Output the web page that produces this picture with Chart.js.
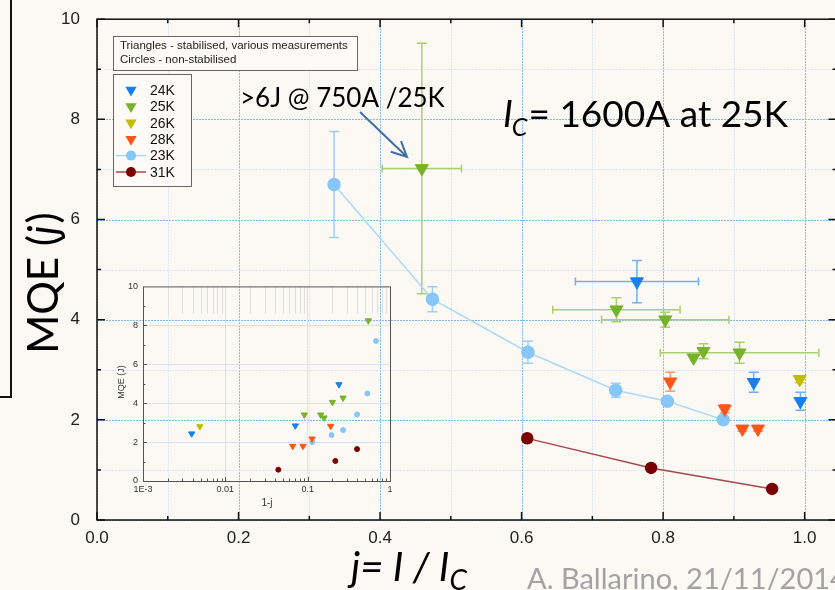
<!DOCTYPE html>
<html>
<head>
<meta charset="utf-8">
<title>MQE vs j</title>
<script src="https://cdn.jsdelivr.net/npm/chart.js@4.4.1/dist/chart.umd.min.js"></script>
<style>
  html, body { margin: 0; padding: 0; background: #fcf8f4; overflow: hidden; }
  #wrap { position: relative; width: 835px; height: 590px; overflow: hidden; }
  #mainChart { position: absolute; left: 0; top: 0; }
  #insetChart { position: absolute; left: 100px; top: 276px; }
</style>
</head>
<body>
<div id="wrap">
  <canvas id="mainChart" width="845" height="590"></canvas>
  <canvas id="insetChart" width="300" height="240"></canvas>
</div>
<script>
// ---- main plot: MQE against j = I / Ic ----
const j24 = [0.763, 0.928, 0.994];
const mqe24 = [4.76, 2.75, 2.37];
const errY24 = [0.42, 0.20, 0.18];
const errX24 = [0.087, 0, 0];

const j25 = [0.459, 0.734, 0.803, 0.843, 0.857, 0.908];
const mqe25 = [7.02, 4.20, 4.00, 3.24, 3.37, 3.34];
const errY25 = [2.50, 0.24, 0.15, 0, 0.15, 0.21];
const errX25 = [0.056, 0.090, 0.090, 0, 0, 0.112];

const j26 = [0.993];
const mqe26 = [2.81];
const errY26 = [0.07];

const j28 = [0.810, 0.887, 0.912, 0.934];
const mqe28 = [2.76, 2.22, 1.82, 1.82];
const errY28 = [0.19, 0.08, 0.05, 0.05];

const j23 = [0.335, 0.474, 0.609, 0.733, 0.806, 0.885];
const mqe23 = [6.70, 4.41, 3.35, 2.59, 2.37, 2.00];
const errY23 = [1.06, 0.25, 0.22, 0.14, 0, 0];

const j31 = [0.608, 0.783, 0.954];
const mqe31 = [1.63, 1.04, 0.62];
const errY31 = [0.08, 0, 0];

const xTickLabels = [0, 0.2, 0.4, 0.6, 0.8, 1.0];
const yTickLabels = [0, 2, 4, 6, 8, 10];

// ---- inset: MQE against 1-j (log) ----
const in24x = [0.0039, 0.0708, 0.240];
const in24y = [2.43, 2.84, 4.96];
const in25x = [0.091, 0.144, 0.158, 0.200, 0.269, 0.546];
const in25y = [3.40, 3.40, 3.25, 4.05, 4.27, 8.24];
const in26x = [0.0049];
const in26y = [2.80];
const in28x = [0.0658, 0.0877, 0.113, 0.190];
const in28y = [1.79, 1.79, 2.17, 2.82];
const in23x = [0.114, 0.195, 0.269, 0.398, 0.531, 0.676];
const in23y = [2.00, 2.36, 2.62, 3.42, 4.50, 7.20];
const in31x = [0.044, 0.217, 0.398];
const in31y = [0.58, 1.03, 1.64];
const insetXLabels = ['1E-3', '0.01', '0.1', '1'];

const noteLines = ['Triangles - stabilised, various measurements', 'Circles - non-stabilised'];

const C24 = '#1580f0', C25 = '#76b22a', C26 = '#c2bb00', C28 = '#ff5516', C23 = '#86c6f8', C31 = '#7a0000';

const mkPts = (xs, ys) => xs.map((v, i) => ({x: v, y: ys[i]}));
const near = (a, b) => Math.abs(a - b) < 1e-6;

function drawMarker(ctx, style, x, y, r, color) {
  ctx.fillStyle = color;
  ctx.beginPath();
  if (style === 'triangle') {
    const s = r * Math.sin(Math.PI / 3);
    ctx.moveTo(x, y + r);
    ctx.lineTo(x - s, y - r / 2);
    ctx.lineTo(x + s, y - r / 2);
    ctx.closePath();
  } else {
    ctx.arc(x, y, r, 0, Math.PI * 2);
  }
  ctx.fill();
}

function drawRun(ctx, x, y, parts) {
  parts.forEach(p => {
    ctx.font = p.font;
    ctx.fillText(p.text, x, y + (p.dy || 0));
    x += ctx.measureText(p.text).width + (p.gap || 0);
  });
}
function runWidth(ctx, parts) {
  let w = 0;
  parts.forEach(p => { ctx.font = p.font; w += ctx.measureText(p.text).width + (p.gap || 0); });
  return w;
}

// dotted grid, major lines bluer than minor ones
const majorGrid = '#82b8f0', minorGrid = '#dde7f2';
const dottedGrid = {
  id: 'dottedGrid',
  beforeDatasetsDraw(chart) {
    const {ctx, chartArea: a, scales: {x, y}} = chart;
    ctx.save();
    x.ticks.forEach(t => {
      const px = Math.round(x.getPixelForValue(t.value));
      ctx.fillStyle = xTickLabels.some(v => near(v, t.value)) ? majorGrid : minorGrid;
      for (let yy = a.top; yy < a.bottom; yy += 3) ctx.fillRect(px, yy, 1, 2);
    });
    y.ticks.forEach(t => {
      const py = Math.round(y.getPixelForValue(t.value));
      ctx.fillStyle = yTickLabels.some(v => near(v, t.value)) ? majorGrid : minorGrid;
      for (let xx = a.left; xx < a.right; xx += 3) ctx.fillRect(xx, py, 2, 1);
    });
    ctx.restore();
  }
};

const errorBars = {
  id: 'errorBars',
  beforeDatasetsDraw(chart) {
    const {ctx, scales: {x, y}} = chart;
    chart.data.datasets.forEach(ds => {
      ctx.save();
      ctx.strokeStyle = ds.errColor;
      ctx.lineWidth = 1.5;
      ctx.beginPath();
      ds.data.forEach((p, k) => {
        const px = x.getPixelForValue(p.x), py = y.getPixelForValue(p.y);
        const ey = ds.errY ? ds.errY[k] : 0;
        const ex = ds.errX ? ds.errX[k] : 0;
        if (ey) {
          const t = y.getPixelForValue(p.y + ey), b = y.getPixelForValue(p.y - ey);
          ctx.moveTo(px, t); ctx.lineTo(px, b);
          ctx.moveTo(px - 5, t); ctx.lineTo(px + 5, t);
          ctx.moveTo(px - 5, b); ctx.lineTo(px + 5, b);
        }
        if (ex) {
          const l = x.getPixelForValue(p.x - ex), r = x.getPixelForValue(p.x + ex);
          ctx.moveTo(l, py); ctx.lineTo(r, py);
          ctx.moveTo(l, py - 4); ctx.lineTo(l, py + 4);
          ctx.moveTo(r, py - 4); ctx.lineTo(r, py + 4);
        }
      });
      ctx.stroke();
      ctx.restore();
    });
  }
};

const frameAndTicks = {
  id: 'frameAndTicks',
  afterDraw(chart) {
    const {ctx, chartArea: a, scales: {x, y}} = chart;
    ctx.save();
    ctx.strokeStyle = '#111';
    ctx.lineWidth = 1.5;
    ctx.strokeRect(a.left, a.top, a.right - a.left, a.bottom - a.top);
    ctx.beginPath();
    x.ticks.forEach(t => {
      const px = x.getPixelForValue(t.value);
      const len = xTickLabels.some(v => near(v, t.value)) ? 8 : 4;
      ctx.moveTo(px, a.bottom); ctx.lineTo(px, a.bottom - len);
      ctx.moveTo(px, a.top); ctx.lineTo(px, a.top + len);
    });
    y.ticks.forEach(t => {
      const py = y.getPixelForValue(t.value);
      const len = yTickLabels.some(v => near(v, t.value)) ? 8 : 4;
      ctx.moveTo(a.left, py); ctx.lineTo(a.left + len, py);
      ctx.moveTo(a.right, py); ctx.lineTo(a.right - len, py);
    });
    ctx.stroke();
    // bracket of the slide box at the far left
    ctx.lineWidth = 2;
    ctx.beginPath();
    ctx.moveTo(11, 0); ctx.lineTo(11, 397); ctx.lineTo(0, 397);
    ctx.stroke();
    ctx.restore();
  }
};

const legendBoxes = {
  id: 'legendBoxes',
  afterDraw(chart) {
    const ctx = chart.ctx;
    ctx.save();
    ctx.lineWidth = 1;
    ctx.strokeStyle = '#666';
    ctx.fillStyle = '#fdfaf7';
    ctx.fillRect(113.5, 36.5, 244, 34);
    ctx.strokeRect(113.5, 36.5, 244, 34);
    ctx.fillStyle = '#222';
    ctx.font = '11.5px "Liberation Sans"';
    ctx.textBaseline = 'middle';
    ctx.fillText(noteLines[0], 120, 46);
    ctx.fillText(noteLines[1], 120, 60);

    ctx.fillStyle = '#fdfaf7';
    ctx.fillRect(113.5, 74.5, 78, 112);
    ctx.strokeRect(113.5, 74.5, 78, 112);
    chart.data.datasets.forEach((ds, i) => {
      const cy = 90 + i * 16.4;
      if (ds.showLine) {
        ctx.strokeStyle = ds.borderColor;
        ctx.lineWidth = 1.5;
        ctx.beginPath(); ctx.moveTo(116, cy); ctx.lineTo(146, cy); ctx.stroke();
      }
      drawMarker(ctx, ds.pointStyle, 131, cy, ds.pointStyle === 'triangle' ? 6.5 : 5, ds.pointBackgroundColor);
      ctx.fillStyle = '#111';
      ctx.font = '14px "Liberation Sans"';
      ctx.fillText(ds.label, 150, cy + 1);
    });
    ctx.restore();
  }
};

const annotations = {
  id: 'annotations',
  afterDraw(chart) {
    const ctx = chart.ctx;
    ctx.save();
    ctx.fillStyle = '#000';
    ctx.textBaseline = 'alphabetic';
    ctx.textAlign = 'left';

    // Ic = 1600A at 25K
    drawRun(ctx, 503, 127, [
      {text: 'I', font: 'italic 37px Lato', gap: -1},
      {text: 'C', font: 'italic 25px Lato', dy: 9, gap: 1},
      {text: '= 1600A at 25K', font: '37px Lato'}
    ]);

    // >6J note with arrow
    ctx.font = '26px Lato';
    ctx.fillText('>6J @ 750A /25K', 240, 107);
    ctx.strokeStyle = '#3e6ea6';
    ctx.lineWidth = 2;
    const x0 = 360, y0 = 112, x1 = 407, y1 = 157;
    const ang = Math.atan2(y1 - y0, x1 - x0);
    ctx.beginPath();
    ctx.moveTo(x0, y0); ctx.lineTo(x1, y1);
    ctx.moveTo(x1 - 17 * Math.cos(ang - 0.45), y1 - 17 * Math.sin(ang - 0.45));
    ctx.lineTo(x1, y1);
    ctx.lineTo(x1 - 17 * Math.cos(ang + 0.45), y1 - 17 * Math.sin(ang + 0.45));
    ctx.stroke();

    // y axis title
    const yt = [
      {text: 'MQE (', font: '42px Lato'},
      {text: 'j', font: 'italic 42px Lato', gap: 2},
      {text: ')', font: '42px Lato'}
    ];
    ctx.save();
    ctx.translate(58, 283);
    ctx.rotate(-Math.PI / 2);
    drawRun(ctx, -runWidth(ctx, yt) / 2, 0, yt);
    ctx.restore();

    // x axis title
    drawRun(ctx, 351, 581, [
      {text: 'j= I / I', font: 'italic 40px Lato'},
      {text: 'C', font: 'italic 28px Lato', dy: 9}
    ]);

    // credit
    ctx.fillStyle = '#a3a3a3';
    ctx.font = '29px Lato';
    ctx.fillText('A. Ballarino, 21/11/2014', 527, 589);
    ctx.restore();
  }
};

new Chart(document.getElementById('mainChart'), {
  type: 'scatter',
  data: {
    datasets: [
      {label: '24K', data: mkPts(j24, mqe24), errY: errY24, errX: errX24, errColor: '#6cb2f2',
       pointStyle: 'triangle', pointRotation: 180, pointRadius: 7.5, pointBackgroundColor: C24, pointBorderColor: C24},
      {label: '25K', data: mkPts(j25, mqe25), errY: errY25, errX: errX25, errColor: '#a8d070',
       pointStyle: 'triangle', pointRotation: 180, pointRadius: 7.5, pointBackgroundColor: C25, pointBorderColor: C25},
      {label: '26K', data: mkPts(j26, mqe26), errY: errY26, errColor: '#d6cf5a',
       pointStyle: 'triangle', pointRotation: 180, pointRadius: 7.5, pointBackgroundColor: C26, pointBorderColor: C26},
      {label: '28K', data: mkPts(j28, mqe28), errY: errY28, errColor: '#ff9a70',
       pointStyle: 'triangle', pointRotation: 180, pointRadius: 7.5, pointBackgroundColor: C28, pointBorderColor: C28},
      {label: '23K', data: mkPts(j23, mqe23), errY: errY23, errColor: '#9ccff8', showLine: true,
       borderColor: '#acd9fa', borderWidth: 1.5,
       pointStyle: 'circle', pointRadius: 6, pointBackgroundColor: C23, pointBorderColor: C23},
      {label: '31K', data: mkPts(j31, mqe31), errY: errY31, errColor: '#d08a8a', showLine: true,
       borderColor: '#a84848', borderWidth: 1.5,
       pointStyle: 'circle', pointRadius: 5.5, pointBackgroundColor: C31, pointBorderColor: C31}
    ]
  },
  options: {
    responsive: false,
    animation: false,
    devicePixelRatio: 1,
    layout: {padding: {top: 16, right: 8, left: 0, bottom: 0}},
    plugins: {legend: {display: false}, tooltip: {enabled: false}},
    scales: {
      x: {
        type: 'linear', min: 0, max: 1.045,
        afterFit(s) { s.height = 70; },
        ticks: {
          stepSize: 0.1, includeBounds: false, autoSkip: false, maxRotation: 0, padding: 0,
          color: '#222', font: {family: 'Liberation Sans', size: 17},
          callback: v => xTickLabels.some(t => near(t, v)) ? v.toFixed(1) : ''
        },
        grid: {display: false},
        border: {display: false}
      },
      y: {
        min: 0, max: 10,
        afterFit(s) { s.width = 97; },
        ticks: {
          stepSize: 1, autoSkip: false, padding: 9,
          color: '#222', font: {family: 'Liberation Sans', size: 17},
          callback: v => yTickLabels.some(t => near(t, v)) ? String(v) : ''
        },
        grid: {display: false},
        border: {display: false}
      }
    }
  },
  plugins: [dottedGrid, errorBars, frameAndTicks, legendBoxes, annotations]
});

// ---- inset chart ----
const insetFrame = {
  id: 'insetFrame',
  afterDraw(chart) {
    const {ctx, chartArea: a, scales: {x, y}} = chart;
    ctx.save();
    // long light minor marks hanging from the top
    ctx.strokeStyle = '#e0e0e0';
    ctx.lineWidth = 1;
    ctx.beginPath();
    for (let e = -3; e < 0; e++) {
      for (let m = 2; m <= 9; m++) {
        const px = Math.round(x.getPixelForValue(m * Math.pow(10, e))) + 0.5;
        ctx.moveTo(px, a.top); ctx.lineTo(px, a.top + 27);
      }
    }
    ctx.stroke();
    // frame + inward ticks
    ctx.strokeStyle = '#555';
    ctx.strokeRect(a.left + 0.5, a.top + 0.5, a.right - a.left, a.bottom - a.top);
    ctx.beginPath();
    for (let e = -3; e <= 0; e++) {
      for (let m = 1; m <= 9; m++) {
        const v = m * Math.pow(10, e);
        if (v > 1.0001) break;
        const px = Math.round(x.getPixelForValue(v)) + 0.5;
        const len = m === 1 ? 4 : 2.5;
        ctx.moveTo(px, a.bottom); ctx.lineTo(px, a.bottom - len);
      }
    }
    for (let v = 1; v < 10; v++) {
      const py = Math.round(y.getPixelForValue(v)) + 0.5;
      ctx.moveTo(a.left, py); ctx.lineTo(a.left + (v % 2 ? 2.5 : 4), py);
    }
    ctx.stroke();
    // titles
    ctx.fillStyle = '#333';
    ctx.font = '10px "Liberation Sans"';
    ctx.textAlign = 'center';
    ctx.textBaseline = 'middle';
    ctx.fillText('1-j', 167, 227);
    ctx.save();
    ctx.translate(22, 106);
    ctx.rotate(-Math.PI / 2);
    ctx.font = '9px "Liberation Sans"';
    ctx.fillText('MQE (J)', 0, 0);
    ctx.restore();
    ctx.restore();
  }
};

const insetGrid = '#d2e4f6';
const decadeIndex = v => {
  const e = Math.log10(v), r = Math.round(e);
  return Math.abs(e - r) < 1e-6 ? r + 3 : -1;
};

new Chart(document.getElementById('insetChart'), {
  type: 'scatter',
  data: {
    datasets: [
      {label: '24K', data: mkPts(in24x, in24y), pointStyle: 'triangle', pointRotation: 180, pointRadius: 3.6,
       pointBackgroundColor: C24, pointBorderColor: C24},
      {label: '25K', data: mkPts(in25x, in25y), pointStyle: 'triangle', pointRotation: 180, pointRadius: 3.6,
       pointBackgroundColor: C25, pointBorderColor: C25},
      {label: '26K', data: mkPts(in26x, in26y), pointStyle: 'triangle', pointRotation: 180, pointRadius: 3.6,
       pointBackgroundColor: C26, pointBorderColor: C26},
      {label: '28K', data: mkPts(in28x, in28y), pointStyle: 'triangle', pointRotation: 180, pointRadius: 3.6,
       pointBackgroundColor: C28, pointBorderColor: C28},
      {label: '23K', data: mkPts(in23x, in23y), pointStyle: 'circle', pointRadius: 2.5,
       pointBackgroundColor: C23, pointBorderColor: C23},
      {label: '31K', data: mkPts(in31x, in31y), pointStyle: 'circle', pointRadius: 2.5,
       pointBackgroundColor: C31, pointBorderColor: C31}
    ]
  },
  options: {
    responsive: false,
    animation: false,
    devicePixelRatio: 1,
    layout: {padding: {top: 10, right: 10, left: 0, bottom: 0}},
    plugins: {legend: {display: false}, tooltip: {enabled: false}},
    scales: {
      x: {
        type: 'logarithmic', min: 0.001, max: 1,
        afterFit(s) { s.height = 35; },
        ticks: {
          autoSkip: false, maxRotation: 0, padding: 3, color: '#333',
          font: {family: 'Liberation Sans', size: 9},
          callback: v => { const k = decadeIndex(v); return k >= 0 ? insetXLabels[k] : ''; }
        },
        grid: {drawTicks: false,
               color: c => (c.tick && decadeIndex(c.tick.value) > 0 && decadeIndex(c.tick.value) < 3) ? insetGrid : 'rgba(0,0,0,0)'},
        border: {display: false}
      },
      y: {
        min: 0, max: 10,
        afterFit(s) { s.width = 43; },
        ticks: {
          stepSize: 1, autoSkip: false, padding: 5, color: '#333',
          font: {family: 'Liberation Sans', size: 9},
          callback: v => v % 2 === 0 ? String(v) : ''
        },
        grid: {drawTicks: false,
               color: c => (c.tick && c.tick.value % 2 === 0 && c.tick.value > 0 && c.tick.value < 10) ? insetGrid : 'rgba(0,0,0,0)'},
        border: {display: false}
      }
    }
  },
  plugins: [insetFrame]
});
</script>
</body>
</html>
